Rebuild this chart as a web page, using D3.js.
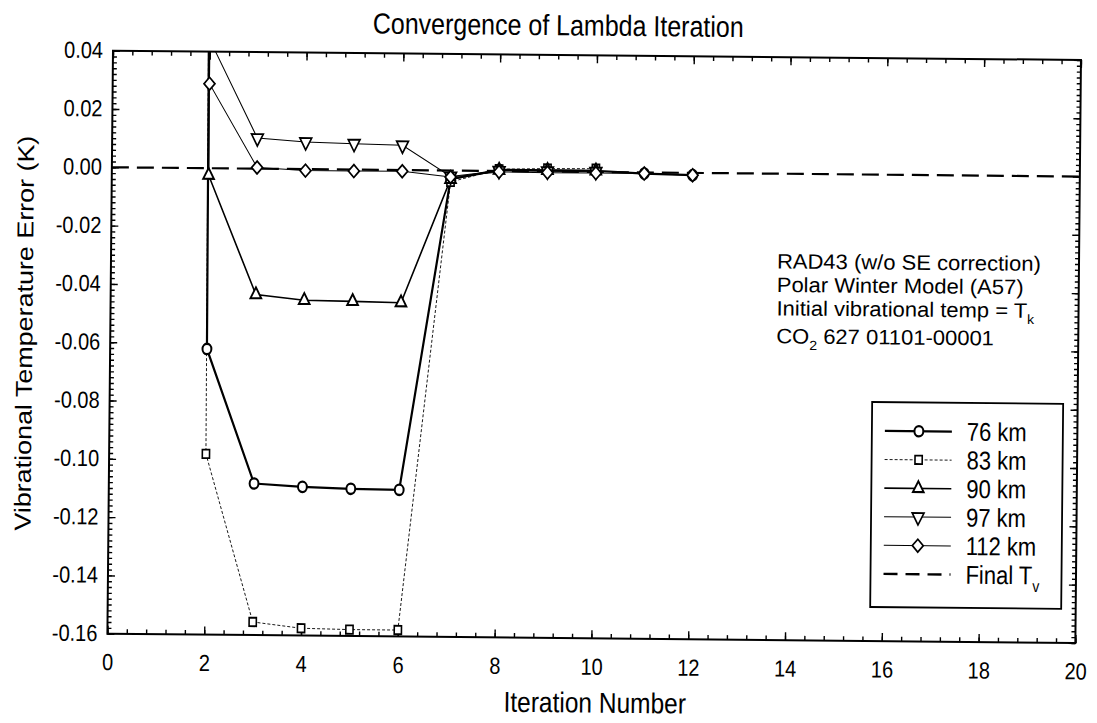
<!DOCTYPE html>
<html>
<head>
<meta charset="utf-8">
<script src="https://cdn.jsdelivr.net/npm/d3@7"></script>
<style>
  body { margin: 0; background: #fff; }
  svg { display: block; }
  text { font-family: "Liberation Sans", Arial, sans-serif; fill: #000; }
</style>
</head>
<body>
<svg id="chart" width="1097" height="723"></svg>
<script>
// Iteration numbers and vibrational temperature error (K) per altitude.
// Iteration 1 errors are far off the axis (clipped), giving the near-vertical
// drop onto iteration 2.
const iterations = [1, 2, 3, 4, 5, 6, 7, 8, 9, 10, 11, 12];
const err76km  = [5.0, -0.062, -0.108, -0.109, -0.1095, -0.1097, -0.003, 0.0004, 0.0004, 0.0004, -0.0004, -0.0008];
const err83km  = [5.0, -0.098, -0.1555, -0.1575, -0.1578, -0.1578, -0.0039, 0.0006, 0.0010, 0.0011, null, null];
const err90km  = [5.0, -0.0024, -0.0432, -0.0450, -0.0452, -0.0455, -0.0030, 0.0003, 0.0004, 0.0004, null, null];
const err97km  = [5.0, 0.044, 0.0105, 0.0093, 0.0089, 0.0085, -0.0020, 0.0001, 0.0001, 0.0001, null, null];
const err112km = [5.0, 0.029, 0.0004, -0.0005, -0.0005, -0.0004, -0.0022, -0.0003, -0.0004, -0.0004, -0.0004, -0.0008];
const finalTv  = [0, 0];
const finalTvIterations = [0, 20];

const seriesNames = ["76 km", "83 km", "90 km", "97 km", "112 km"];
const xTickLabels = [0, 2, 4, 6, 8, 10, 12, 14, 16, 18, 20];
const yTickLabels = [0.04, 0.02, 0.00, -0.02, -0.04, -0.06, -0.08, -0.10, -0.12, -0.14, -0.16];

const annotationLines = [
  [{t: "RAD43 (w/o SE correction)"}],
  [{t: "Polar Winter Model (A57)"}],
  [{t: "Initial vibrational temp = T"}, {t: "k", sub: true}],
  [{t: "CO"}, {t: "2", sub: true}, {t: " 627 01101-00001"}]
];

// Series styling
const styles = [
  {data: err76km,  width: 2.2, dash: null,  marker: "circle"},
  {data: err83km,  width: 0.9, dash: "3,2", marker: "square"},
  {data: err90km,  width: 1.6, dash: null,  marker: "triangleUp"},
  {data: err97km,  width: 1.0, dash: null,  marker: "triangleDown"},
  {data: err112km, width: 1.0, dash: null,  marker: "diamond"}
];

const W = 1097, H = 723;
const PL = 113, PT = 50.7, PW = 968, PH = 583;   // plot frame
const SY = 1.17;                                  // tall glyph aspect of the page type
const TILT = 0.55;                                // sheet sits slightly rotated

const svg = d3.select("#chart");
const root = svg.append("g").attr("transform", `rotate(${TILT}, ${PL}, ${PT})`);

const x = d3.scaleLinear().domain([0, 20]).range([PL, PL + PW]);
const y = d3.scaleLinear().domain([-0.16, 0.04]).range([PT + PH, PT]);

const fmt = d3.formatLocale({decimal: ".", thousands: ",", grouping: [3], currency: ["", ""], minus: "-"}).format(".2f");

root.append("defs").append("clipPath").attr("id", "plotClip")
  .append("rect").attr("x", PL).attr("y", PT).attr("width", PW).attr("height", PH);

// multi-line text block with optional subscripts; baselines in page pixels
function textBlock(g, lines, tx, baselines, size, anchor, sy) {
  const k = sy || SY;
  const b0 = baselines[0];
  const t = g.append("text")
    .attr("transform", `translate(${tx},${b0}) scale(1,${k})`)
    .attr("font-size", size)
    .attr("text-anchor", anchor || "start");
  lines.forEach((parts, li) => {
    let shifted = false;
    parts.forEach((p, pi) => {
      const ts = t.append("tspan").text(p.t);
      if (pi === 0) ts.attr("x", 0).attr("y", (baselines[li] - b0) / k);
      if (p.sub) {
        ts.attr("font-size", size * 0.64);
        if (!shifted) { ts.attr("dy", size * 0.3); shifted = true; }
      } else if (shifted) { ts.attr("dy", -size * 0.3); shifted = false; }
    });
  });
  return t;
}

// ---- axes with inward ticks ----
const yMinor = d3.range(-80, 21).map(i => i * 0.002);
const xMinor = d3.range(0, 51).map(i => i * 0.4);

function axisGroup(axis, tx, ty) {
  const g = root.append("g").attr("transform", `translate(${tx},${ty})`).call(axis);
  g.select(".domain").remove();
  g.selectAll("line").attr("stroke", "#000").attr("stroke-width", 1.4);
  return g;
}

// left
axisGroup(d3.axisLeft(y).tickValues(yMinor).tickSize(-4).tickFormat(""), PL, 0);
axisGroup(d3.axisLeft(y).tickValues(yTickLabels).tickSize(-7).tickPadding(10).tickFormat(fmt), PL, 0)
  .selectAll("text").attr("font-size", 20).attr("fill", "#000")
  .attr("transform", `scale(1,${SY})`).attr("dy", "0.3em");
// right
axisGroup(d3.axisRight(y).tickValues(yMinor).tickSize(-4).tickFormat(""), PL + PW, 0);
axisGroup(d3.axisRight(y).tickValues(yTickLabels).tickSize(-7).tickFormat(""), PL + PW, 0);
// bottom
axisGroup(d3.axisBottom(x).tickValues(xMinor).tickSize(-4.5).tickFormat(""), 0, PT + PH);
axisGroup(d3.axisBottom(x).tickValues(xTickLabels).tickSize(-8).tickPadding(17).tickFormat(d3.format("d")), 0, PT + PH)
  .selectAll("text").attr("font-size", 20).attr("fill", "#000")
  .attr("transform", `scale(1,${SY})`);
// top
axisGroup(d3.axisTop(x).tickValues(xMinor).tickSize(-4.5).tickFormat(""), 0, PT);
axisGroup(d3.axisTop(x).tickValues(xTickLabels).tickSize(-8).tickFormat(""), 0, PT);

// frame
root.append("rect")
  .attr("x", PL).attr("y", PT).attr("width", PW).attr("height", PH)
  .attr("fill", "none").attr("stroke", "#000").attr("stroke-width", 2);

// ---- reference line: final Tv ----
const plot = root.append("g").attr("clip-path", "url(#plotClip)");
plot.append("path")
  .datum(finalTvIterations.map((it, i) => [it, finalTv[i]]))
  .attr("d", d3.line().x(d => x(d[0])).y(d => y(d[1])))
  .attr("fill", "none").attr("stroke", "#000").attr("stroke-width", 2.2)
  .attr("stroke-dasharray", "17,8");

// ---- series lines ----
const line = d3.line().defined(d => d[1] !== null).x(d => x(d[0])).y(d => y(d[1]));
styles.forEach(s => {
  plot.append("path")
    .datum(iterations.map((it, i) => [it, s.data[i]]))
    .attr("d", line)
    .attr("fill", "none").attr("stroke", "#000")
    .attr("stroke-width", s.width)
    .attr("stroke-dasharray", s.dash);
});

// ---- markers ----
const shapes = {
  circle:       {type: d3.symbolCircle,   size: 62, sw: 2.0},
  square:       {type: d3.symbolSquare,   size: 52, sw: 1.6},
  triangleUp:   {type: d3.symbolTriangle, size: 50, sw: 1.8},
  triangleDown: {type: d3.symbolTriangle, size: 60, sw: 1.6, rot: 180},
  diamond:      {type: d3.symbolSquare,   size: 60, sw: 1.6, rot: 45}
};
function marker(g, name, cx, cy) {
  const m = shapes[name];
  g.append("path")
    .attr("d", d3.symbol().type(m.type).size(m.size)())
    .attr("transform", `translate(${cx},${cy}) scale(1,${SY})` + (m.rot ? ` rotate(${m.rot})` : ""))
    .attr("fill", "#fff").attr("stroke", "#000").attr("stroke-width", m.sw);
}
const [yLo, yHi] = y.domain();
styles.forEach(s => {
  iterations.forEach((it, i) => {
    const v = s.data[i];
    if (v === null || v > yHi || v < yLo) return;
    marker(plot, s.marker, x(it), y(v));
  });
});

// ---- titles ----
textBlock(root, [[{t: "Convergence of Lambda Iteration"}]], 558, [31], 25, "middle");
textBlock(root, [[{t: "Iteration Number"}]], 601, [708], 24.5, "middle");
root.append("text")
  .attr("transform", `translate(35, 334) scale(1,${SY}) rotate(-90)`)
  .attr("text-anchor", "middle").attr("font-size", 23)
  .text("Vibrational Temperature Error (K)");

// ---- annotation (tightly set block) ----
textBlock(root.append("g"), annotationLines, 779, [262, 285.5, 309, 337], 22, "start", 0.95);

// ---- legend ----
const lg = root.append("g");
const lx = 875.5, ly = 394.7, lw = 191, lh = 205, rowH = 28.6, row0 = 28.8;
lg.append("rect").attr("x", lx).attr("y", ly).attr("width", lw).attr("height", lh)
  .attr("fill", "#fff").attr("stroke", "#000").attr("stroke-width", 1.8);
styles.forEach((s, i) => {
  const cy = ly + row0 + i * rowH;
  lg.append("line").attr("x1", lx + 13).attr("x2", lx + 80).attr("y1", cy).attr("y2", cy)
    .attr("stroke", "#000").attr("stroke-width", s.width).attr("stroke-dasharray", s.dash);
  marker(lg, s.marker, lx + 47, cy);
  textBlock(lg, [[{t: seriesNames[i]}]], lx + 95, [cy + 9], 22);
});
{
  const cy = ly + row0 + 5 * rowH;
  lg.append("line").attr("x1", lx + 13).attr("x2", lx + 80).attr("y1", cy).attr("y2", cy)
    .attr("stroke", "#000").attr("stroke-width", 2.4).attr("stroke-dasharray", "14,8");
  textBlock(lg, [[{t: "Final T"}, {t: "v", sub: true}]], lx + 95, [cy + 9], 22);
}
</script>
</body>
</html>
